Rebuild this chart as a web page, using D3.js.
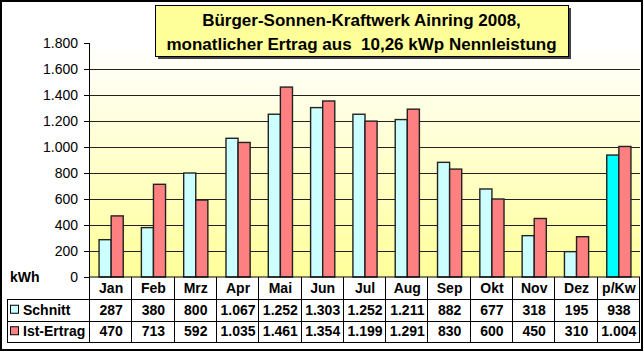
<!DOCTYPE html>
<html>
<head>
<meta charset="utf-8">
<script src="https://cdn.jsdelivr.net/npm/d3@7"></script>
<style>
  body { margin: 0; background: #fff; }
  svg text { font-family: "Liberation Sans", Arial, sans-serif; }
</style>
</head>
<body>
<div id="chart"></div>
<script>
// data
const months = ["Jan", "Feb", "Mrz", "Apr", "Mai", "Jun", "Jul", "Aug", "Sep", "Okt", "Nov", "Dez", "p/Kw"];
const schnitt = [287, 380, 800, 1067, 1252, 1303, 1252, 1211, 882, 677, 318, 195, 938];
const istErtrag = [470, 713, 592, 1035, 1461, 1354, 1199, 1291, 830, 600, 450, 310, 1004];
const yTicks = [0, 200, 400, 600, 800, 1000, 1200, 1400, 1600, 1800];
const titleLines = ["Bürger-Sonnen-Kraftwerk Ainring 2008,", "monatlicher Ertrag aus  10,26 kWp Nennleistung"];

const width = 644;
const height = 352;
const plot = { left: 90, right: 640, top: 43, bottom: 277 };
const rowBottoms = [299, 320.5, 342];
const legendLeft = 7;

const de = d3.formatLocale({ decimal: ",", thousands: ".", grouping: [3], currency: ["", "€"] });
const fmt = de.format(",d");

const svg = d3.select("#chart").append("svg")
    .attr("width", width)
    .attr("height", height);

// background gradient of plot area
const defs = svg.append("defs");
const grad = defs.append("linearGradient")
    .attr("id", "bg")
    .attr("x1", 0).attr("y1", 0).attr("x2", 0).attr("y2", 1);
grad.append("stop").attr("offset", "0%").attr("stop-color", "#ffffff");
grad.append("stop").attr("offset", "100%").attr("stop-color", "#ffff99");

const x = d3.scaleBand()
    .domain(months)
    .range([plot.left, plot.right]);

const y = d3.scaleLinear()
    .domain([0, 1800])
    .range([plot.bottom, plot.top]);

svg.append("rect")
    .attr("x", plot.left)
    .attr("y", plot.top)
    .attr("width", plot.right - plot.left)
    .attr("height", plot.bottom - plot.top)
    .attr("fill", "url(#bg)");

// gridlines
svg.append("g")
    .selectAll("line")
    .data(yTicks.filter(d => d > 0 && d < 1800))
    .join("line")
    .attr("x1", plot.left)
    .attr("x2", plot.right)
    .attr("y1", d => Math.round(y(d)) + 0.5)
    .attr("y2", d => Math.round(y(d)) + 0.5)
    .attr("stroke", "#222")
    .attr("stroke-width", 1);

// bars
const barW = x.bandwidth() / 3.5;
const series = [
    { name: "Schnitt", values: schnitt, color: "#ccffff", offset: -1 },
    { name: "Ist-Ertrag", values: istErtrag, color: "#ff8080", offset: 0 }
];

series.forEach(s => {
    svg.append("g")
        .selectAll("rect")
        .data(months)
        .join("rect")
        .attr("x", (d, i) => x(d) + x.bandwidth() / 2 + s.offset * barW)
        .attr("y", (d, i) => y(s.values[i]))
        .attr("width", barW)
        .attr("height", (d, i) => y(0) - y(s.values[i]))
        .attr("fill", (d, i) => (s.name === "Schnitt" && d === "p/Kw") ? "#00ffff" : s.color)
        .attr("stroke", "#222")
        .attr("stroke-width", 1.4);
});

// y axis
const yAxis = svg.append("g")
    .attr("transform", `translate(${plot.left},0)`)
    .call(d3.axisLeft(y).tickValues(yTicks).tickFormat(fmt).tickSize(6).tickPadding(6));
yAxis.select(".domain").attr("stroke", "#000").attr("d", `M-0.5,${plot.top}V${plot.bottom}`);
yAxis.selectAll(".tick line").attr("stroke", "#000");
yAxis.selectAll(".tick text")
    .attr("fill", "#000")
    .style("font-size", "14px");

svg.append("text")
    .attr("x", 10)
    .attr("y", y(0) + 5)
    .style("font-size", "14px")
    .style("font-weight", "bold")
    .text("kWh");

// x axis line
svg.append("line")
    .attr("x1", plot.left).attr("x2", plot.right)
    .attr("y1", plot.bottom).attr("y2", plot.bottom)
    .attr("stroke", "#000");

// data table
const table = svg.append("g").attr("stroke", "#000").attr("stroke-width", 1);
rowBottoms.forEach(b => {
    table.append("line")
        .attr("x1", legendLeft).attr("x2", plot.right)
        .attr("y1", Math.round(b) + 0.5).attr("y2", Math.round(b) + 0.5);
});
// vertical lines between columns
table.selectAll(".vcol")
    .data(months.map(m => x(m)).concat([plot.right]))
    .join("line")
    .attr("x1", d => Math.round(d) - 0.5)
    .attr("x2", d => Math.round(d) - 0.5)
    .attr("y1", plot.bottom)
    .attr("y2", rowBottoms[2] + 0.5);
table.append("line")
    .attr("x1", legendLeft + 0.5).attr("x2", legendLeft + 0.5)
    .attr("y1", rowBottoms[0]).attr("y2", rowBottoms[2] + 0.5);

const cellText = svg.append("g")
    .style("font-size", "14px")
    .style("font-weight", "bold")
    .attr("text-anchor", "middle");

cellText.selectAll(".hdr")
    .data(months)
    .join("text")
    .attr("x", d => x(d) + x.bandwidth() / 2)
    .attr("y", (plot.bottom + rowBottoms[0]) / 2 + 5)
    .text(d => d);

const rowTops = [rowBottoms[0], rowBottoms[1]];
series.forEach((s, r) => {
    const mid = (rowTops[r] + rowBottoms[r + 1]) / 2;
    cellText.append("g")
        .selectAll("text")
        .data(months)
        .join("text")
        .attr("x", d => x(d) + x.bandwidth() / 2)
        .attr("y", mid + 5)
        .text((d, i) => fmt(s.values[i]));

    svg.append("rect")
        .attr("x", legendLeft + 3.5)
        .attr("y", mid - 4.5)
        .attr("width", 8)
        .attr("height", 8)
        .attr("fill", s.color)
        .attr("stroke", "#000");

    svg.append("text")
        .attr("x", legendLeft + 16)
        .attr("y", mid + 5)
        .style("font-size", "14px")
        .style("font-weight", "bold")
        .text(s.name);
});

// title box with shadow
const box = { x: 155, y: 5, w: 413, h: 51 };
svg.append("rect")
    .attr("x", box.x + 3).attr("y", box.y + 3)
    .attr("width", box.w).attr("height", box.h)
    .attr("fill", "#444");
svg.append("rect")
    .attr("x", box.x + 0.5).attr("y", box.y + 0.5)
    .attr("width", box.w).attr("height", box.h)
    .attr("fill", "#ffff99")
    .attr("stroke", "#000");
svg.append("g")
    .selectAll("text")
    .data(titleLines)
    .join("text")
    .attr("x", box.x + box.w / 2)
    .attr("y", (d, i) => box.y + 21 + i * 24)
    .attr("text-anchor", "middle")
    .style("font-size", "17px")
    .style("font-weight", "bold")
    .style("white-space", "pre")
    .attr("xml:space", "preserve")
    .text(d => d);

// outer frame
svg.append("rect")
    .attr("x", 1).attr("y", 1)
    .attr("width", 641).attr("height", 349)
    .attr("fill", "none")
    .attr("stroke", "#000")
    .attr("stroke-width", 2);
</script>
</body>
</html>
